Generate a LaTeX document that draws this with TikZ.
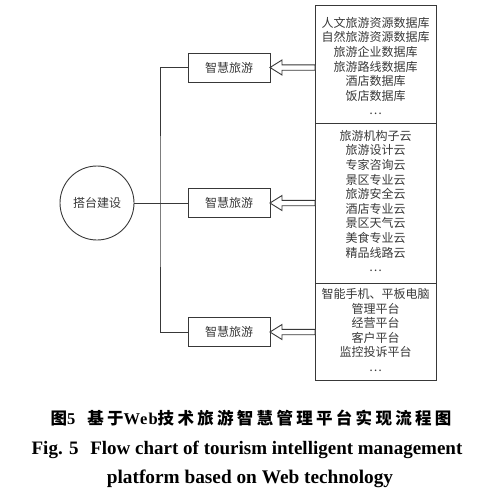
\documentclass[tikz,border=0pt]{standalone}
\usepackage{fontspec}
\usetikzlibrary{calc}
\newfontfamily\cjk{Noto Sans CJK SC}
\newfontfamily\cjkcap{Noto Sans CJK SC}[LetterSpace=20]
\newfontfamily\tnr{Liberation Serif}
\newfontfamily\tnrcap{Liberation Serif}[LetterSpace=6]
\definecolor{ink}{gray}{0.22}
\begin{document}
\begin{tikzpicture}[x=1pt,y=-1pt,
  every node/.style={inner sep=0pt,outer sep=0pt},
  edge/.style={draw=ink,line width=0.9pt},
  hub/.style={circle,draw=ink,line width=0.9pt,minimum size=74pt,font=\cjk\fontsize{12}{14}\selectfont,text=ink},
  midbox/.style={rectangle,draw=ink,line width=0.9pt,minimum width=82pt,minimum height=29pt,font=\cjk\fontsize{12}{14}\selectfont,text=ink},
  listbox/.style={rectangle,draw=ink,line width=0.9pt,minimum width=121pt},
  listtext/.style={align=center,font=\cjk\fontsize{12}{14.6}\selectfont,text=ink},
  fat/.style={draw=ink,line width=0.9pt,fill=white}]
\useasboundingbox (0,0) rectangle (500,498);

\node[hub] (c) at (97,203) {搭台建设};
\node[midbox] (m1) at (229,67.5) {智慧旅游};
\node[midbox] (m2) at (229,203) {智慧旅游};
\node[midbox] (m3) at (229,332) {智慧旅游};

\node[listbox,minimum height=118pt] (r1) at (375.5,64) {};
\node[listbox,minimum height=160pt] (r2) at (375.5,203) {};
\node[listbox,minimum height=97pt] (r3) at (375.5,331.5) {};

\node[listtext] (t1) at (375.5,66) {人文旅游资源数据库\\自然旅游资源数据库\\旅游企业数据库\\旅游路线数据库\\酒店数据库\\饭店数据库\\…};
\node[listtext] (t2) at (375.5,201) {旅游机构子云\\旅游设计云\\专家咨询云\\景区专业云\\旅游安全云\\酒店专业云\\景区天气云\\美食专业云\\精品线路云\\…};
\node[listtext] (t3) at (375.5,330) {智能手机、平板电脑\\管理平台\\经营平台\\客户平台\\监控投诉平台\\…};

\coordinate (j) at (160,203);
\draw[edge] (c) -- (m2);
\draw[edge] (m1.west) -| (j) |- (m3.west);

\foreach \m/\r in {m1/r1,m2/r2,m3/r3}{
  \draw[fat] (\m.east) -- ($(\m.east)+(12,-7.5)$) -- ($(\m.east)+(12,-2.7)$)
    -- ($(\r.west |- \m.east)+(0,-2.7)$) -- ($(\r.west |- \m.east)+(0,2.7)$)
    -- ($(\m.east)+(12,2.7)$) -- ($(\m.east)+(12,7.5)$) -- cycle;
}

\node (cap1) at (251,418) {\cjkcap\bfseries\fontsize{16.5}{18}\selectfont 图{\tnrcap 5}\hspace{12pt}基于{\tnrcap Web}技术旅游智慧管理平台实现流程图};
\node (cap2) at (247,450) {\tnr\bfseries\fontsize{19}{21}\selectfont Fig. 5\hspace{7pt} Flow chart of tourism intelligent management};
\node (cap3) at (250,479) {\tnr\bfseries\fontsize{19.3}{21}\selectfont platform based on Web technology};
\end{tikzpicture}
\end{document}
